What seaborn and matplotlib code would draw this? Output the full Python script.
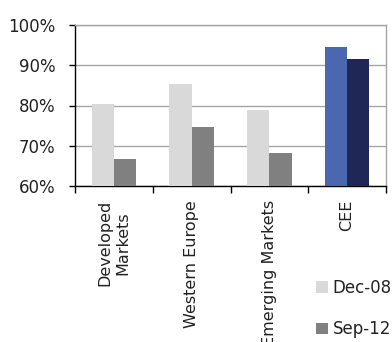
import matplotlib
matplotlib.use("Agg")
import matplotlib.pyplot as plt
import seaborn as sns
import pandas as pd
from matplotlib.patches import Patch
from matplotlib.ticker import FuncFormatter

categories = ["Developed\nMarkets", "Western Europe", "Emerging Markets", "CEE"]
series_names = ["Dec-08", "Sep-12"]
dec08 = [80.4, 85.3, 78.8, 94.5]
sep12 = [66.8, 74.7, 68.1, 91.6]
y_ticks = [60, 70, 80, 90, 100]

sns.set_theme(style="white")
plt.rcParams['font.family'] = ['DejaVu Sans']

df = pd.DataFrame({
    "category": categories * 2,
    "series": [series_names[0]] * 4 + [series_names[1]] * 4,
    "value": dec08 + sep12,
})

fig = plt.figure(figsize=(3.92, 3.42), dpi=100)
ax = fig.add_axes([75/392, 1 - 186/342, (386-75)/392, (186-25)/342])

palette = {"Dec-08": "#d9d9d9", "Sep-12": "#808080"}
sns.barplot(data=df, x="category", y="value", hue="series", palette=palette,
            order=categories, hue_order=series_names, width=0.57, ax=ax,
            legend=False, saturation=1, zorder=3, linewidth=0)

# highlight CEE bars
highlight = {"Dec-08": "#4a67b0", "Sep-12": "#1f2757"}
for cont, name in zip(ax.containers, series_names):
    cont.patches[3].set_facecolor(highlight[name])

ax.set_ylim(60, 100)
ax.set_xlim(-0.5, 3.5)
ax.set_yticks(y_ticks)
ax.yaxis.set_major_formatter(FuncFormatter(lambda v, p: f"{int(v)}%"))
ax.yaxis.grid(True, color="#a6a6a6", linewidth=1, zorder=0)
ax.set_axisbelow(True)
ax.set_xlabel("")
ax.set_ylabel("")

for s in ["left", "bottom"]:
    ax.spines[s].set_color("black")
    ax.spines[s].set_linewidth(1)
for s in ["right", "top"]:
    ax.spines[s].set_color("#a6a6a6")
    ax.spines[s].set_linewidth(1)

ax.tick_params(axis="y", left=True, length=4, width=1, color="black",
               labelsize=12, pad=10, labelcolor="#222222")
ax.set_xticks(range(len(categories)))
ax.set_xticklabels(categories, rotation=90, fontsize=11.5, va="top",
                   ha="center", multialignment="center", color="#222222")
ax.tick_params(axis="x", bottom=False, length=0, pad=10)
ax.set_xticks([-0.5, 0.5, 1.5, 2.5, 3.5], minor=True)
ax.tick_params(axis="x", which="minor", bottom=True, length=5, width=1,
               color="black", direction="out")

handles = [Patch(facecolor=palette[n], edgecolor="none") for n in series_names]
fig.legend(handles, series_names, loc="upper left",
           bbox_to_anchor=(316/392, 1 - 279/342), frameon=False,
           fontsize=12, handlelength=0.7, handleheight=0.7,
           handletextpad=0.3, labelspacing=1.4, borderaxespad=0,
           borderpad=0, labelcolor="#222222")

fig.savefig("out.png", dpi=100)
